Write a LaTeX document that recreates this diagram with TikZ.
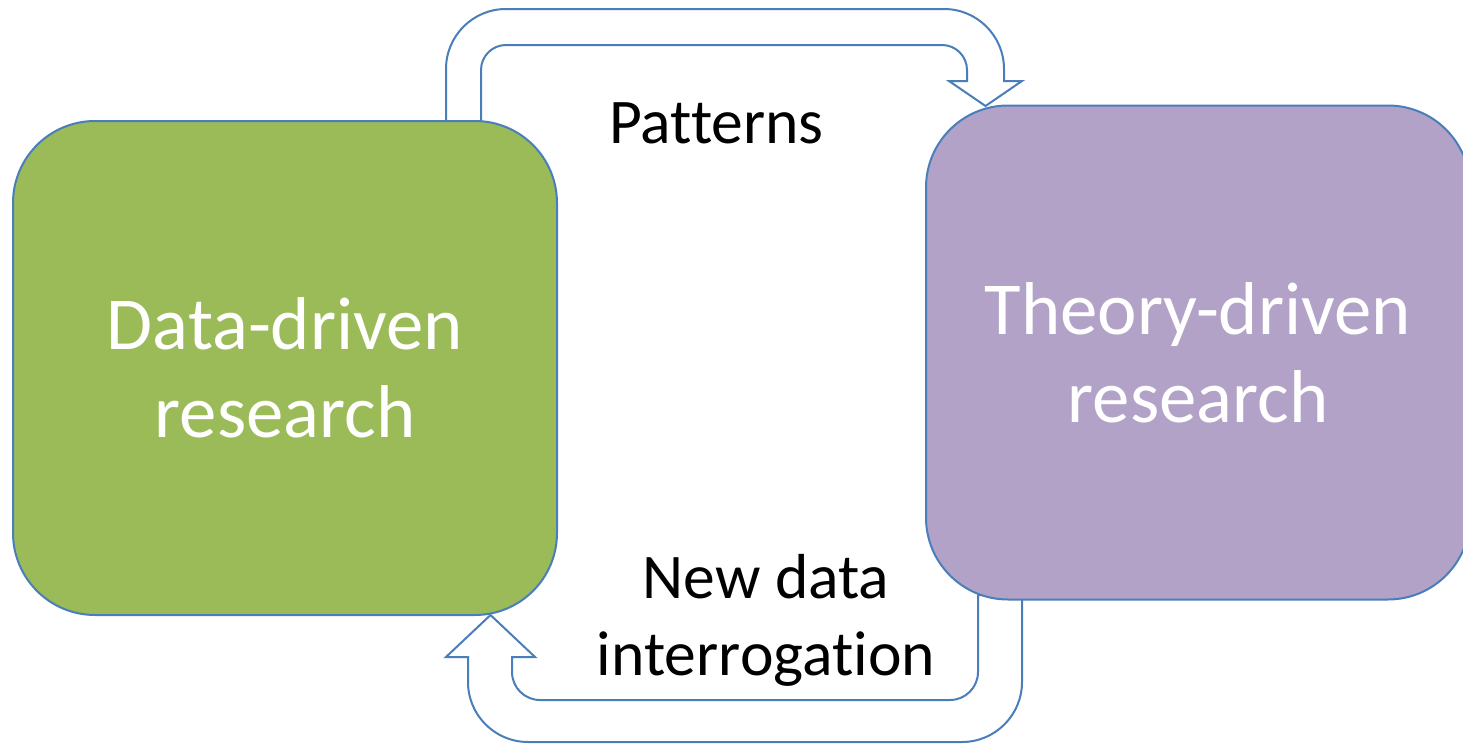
\documentclass[tikz,border=0pt]{standalone}
\usepackage{fontspec}
\setmainfont[RawFeature=-liga]{Carlito}
\usetikzlibrary{backgrounds}
\definecolor{boxgreen}{HTML}{9BBB59}
\definecolor{boxpurple}{HTML}{B2A2C7}
\definecolor{edgeblue}{HTML}{4A7EBB}
\begin{document}
\begin{tikzpicture}[x=0.5pt,y=-0.5pt,
  bigbox/.style={draw=edgeblue,line width=1pt,rounded corners=41pt,
    minimum width=272pt,minimum height=247pt,inner sep=0pt,
    text=white,align=center,font=\fontsize{37.4}{44}\selectfont},
  blockarrow/.style={draw=edgeblue,line width=1pt,fill=white,line join=miter},
  lbl/.style={anchor=base,inner sep=0pt,font=\fontsize{31.8}{38.5}\selectfont,text=black}]
\useasboundingbox (0,0) rectangle (1463,744);
\node[bigbox,fill=boxgreen] (dd) at (285,368) {Data-driven\\research};
\node[bigbox,fill=boxpurple] (td) at (1198,352.5) {Theory-driven\\research};
\begin{scope}[on background layer]
\draw[blockarrow] (446,125) [rounded corners=30pt] -- (446,9) -- (1004,9) [sharp corners]
  -- (1004,81) -- (1022,81) -- (985.5,106) -- (949,81) -- (967,81)
  [rounded corners=12.5pt] -- (967,45) -- (481,45) [sharp corners] -- (481,125) -- cycle;
\draw[blockarrow] (1022,595) [rounded corners=30pt] -- (1022,742) -- (468,742) [sharp corners]
  -- (468,657) -- (446,657) -- (490.5,615) -- (535,657) -- (512,657)
  [rounded corners=14pt] -- (512,700) -- (978,700) [sharp corners] -- (978,595) -- cycle;
\end{scope}
\node[lbl] (pat) at (716.5,143) {Patterns};
\node[lbl] (nd1) at (766,598) {New data};
\node[lbl] (nd2) at (766,675) {interrogation};
\end{tikzpicture}
\end{document}
